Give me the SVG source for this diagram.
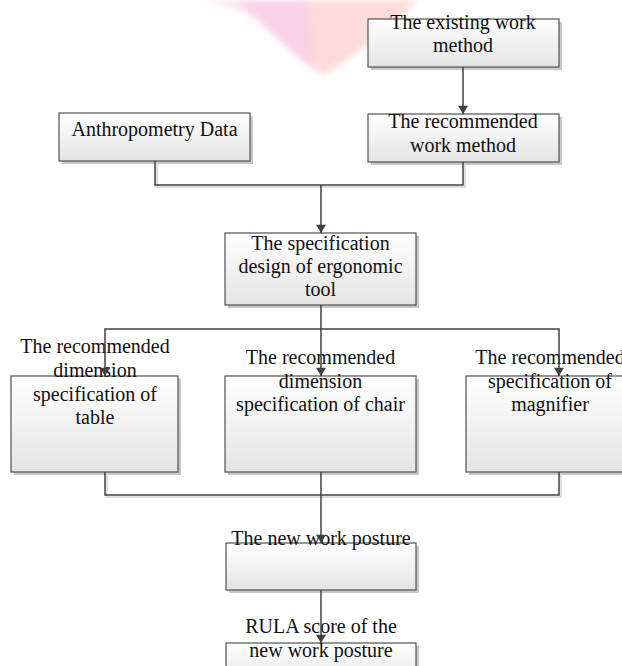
<svg xmlns="http://www.w3.org/2000/svg" width="622" height="666" viewBox="0 0 622 666">
<defs>
<linearGradient id="g" x1="0" y1="0" x2="0" y2="1">
<stop offset="0" stop-color="#ffffff"/>
<stop offset="1" stop-color="#e4e4e4"/>
</linearGradient>
<filter id="blur" x="-20%" y="-20%" width="140%" height="140%"><feGaussianBlur stdDeviation="3"/></filter>
<marker id="arr" viewBox="0 0 10 12" refX="10" refY="6" markerWidth="12" markerHeight="10" markerUnits="userSpaceOnUse" orient="auto">
<path d="M0,0 L10,6 L0,12 z" fill="#404040"/>
</marker>
</defs>
<style>
.box{fill:url(#g);stroke:#505050;stroke-width:1.2}
.sh{fill:#c8c8c8}
.t{font-family:"Liberation Serif","Times New Roman",serif;font-size:20px;fill:#111;text-anchor:middle}
.ln{fill:none;stroke:#404040;stroke-width:1.5}
.lsh{fill:none;stroke:#d4d4d4;stroke-width:1.5}
</style>
<rect width="622" height="666" fill="#ffffff"/>
<g id="watermark" filter="url(#blur)" opacity="0.85">
<polygon points="200,0 240,0 260,20 230,8" fill="#fbe6f0"/>
<polygon points="236,0 310,0 318,72 295,55 268,30" fill="#f9cbe1"/>
<polygon points="308,0 418,0 385,32 352,56 326,74 316,72" fill="#fcd6d4"/>
</g>

<g id="n-existing">
<rect class="sh" x="371" y="22" width="191" height="48"/>
<rect class="box" x="368" y="19" width="191" height="48"/>
<text class="t" x="463" y="29">The existing work</text>
<text class="t" x="463" y="52">method</text>
</g>
<g id="n-anthro">
<rect class="sh" x="62" y="116" width="191" height="48"/>
<rect class="box" x="59" y="113" width="191" height="48"/>
<text class="t" x="154.5" y="136">Anthropometry Data</text>
</g>
<g id="n-recwork">
<rect class="sh" x="371" y="117" width="191" height="48"/>
<rect class="box" x="368" y="114" width="191" height="48"/>
<text class="t" x="463" y="128">The recommended</text>
<text class="t" x="463" y="152">work method</text>
</g>
<g id="n-spec">
<rect class="sh" x="228" y="236" width="191" height="72"/>
<rect class="box" x="225" y="233" width="191" height="72"/>
<text class="t" x="320.5" y="250">The specification</text>
<text class="t" x="320.5" y="273">design of ergonomic</text>
<text class="t" x="320.5" y="296">tool</text>
</g>
<g id="n-table">
<rect class="sh" x="14" y="379" width="167" height="96"/>
<rect class="box" x="11" y="376" width="167" height="96"/>
<text class="t" x="95" y="353">The recommended</text>
<text class="t" x="95" y="377">dimension</text>
<text class="t" x="95" y="401">specification of</text>
<text class="t" x="95" y="424">table</text>
</g>
<g id="n-chair">
<rect class="sh" x="228" y="379" width="191" height="96"/>
<rect class="box" x="225" y="376" width="191" height="96"/>
<text class="t" x="320.5" y="364">The recommended</text>
<text class="t" x="320.5" y="388">dimension</text>
<text class="t" x="320.5" y="411">specification of chair</text>
</g>
<g id="n-magnifier">
<rect class="sh" x="469" y="379" width="170" height="96"/>
<rect class="box" x="466" y="376" width="170" height="96"/>
<text class="t" x="550" y="364">The recommended</text>
<text class="t" x="550" y="388">specification of</text>
<text class="t" x="550" y="411">magnifier</text>
</g>
<g id="n-newposture">
<rect class="sh" x="229" y="546" width="190" height="47"/>
<rect class="box" x="226" y="543" width="190" height="47"/>
<text class="t" x="321" y="545">The new work posture</text>
</g>
<g id="n-rula">
<rect class="sh" x="229" y="646" width="190" height="40"/>
<rect class="box" x="226" y="643" width="190" height="40"/>
<text class="t" x="321" y="633">RULA score of the</text>
<text class="t" x="321" y="657">new work posture</text>
</g>

<g id="connectors">
<path class="lsh" d="M157,162 V187 H465 V163"/>
<path class="ln" d="M155,161 V185 H463 V162"/>
<path class="lsh" d="M107,473 V497 H561 V473"/>
<path class="ln" d="M105,472 V495 H559 V472"/>
<path class="ln" d="M463,67 V114" marker-end="url(#arr)"/>
<path class="ln" d="M321,185 V233" marker-end="url(#arr)"/>
<path class="ln" d="M321,305 V376" marker-end="url(#arr)"/>
<path class="ln" d="M321,329 H105 V376" marker-end="url(#arr)"/>
<path class="ln" d="M321,329 H559 V376" marker-end="url(#arr)"/>
<path class="ln" d="M321,472 V543" marker-end="url(#arr)"/>
<path class="ln" d="M321,590 V643" marker-end="url(#arr)"/>
</g>
</svg>
